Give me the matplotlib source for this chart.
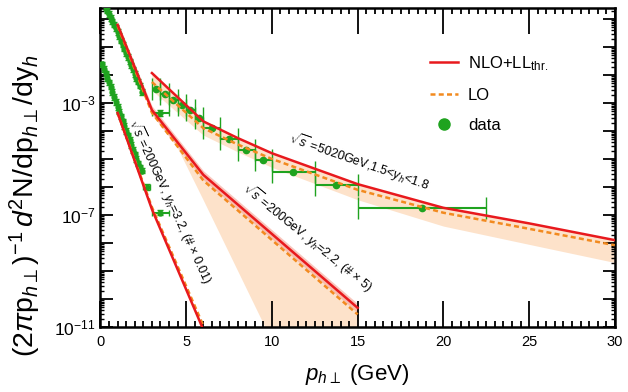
import math
import matplotlib
matplotlib.use('Agg')
import matplotlib.pyplot as plt
from matplotlib.lines import Line2D
from matplotlib.ticker import LogLocator, MultipleLocator, FuncFormatter, NullFormatter

plt.rcParams['font.family'] = ['Liberation Sans', 'DejaVu Sans']
plt.rcParams['mathtext.fontset'] = 'custom'
plt.rcParams['mathtext.rm'] = 'Liberation Sans'
plt.rcParams['mathtext.it'] = 'Liberation Sans:italic'
plt.rcParams['mathtext.bf'] = 'Liberation Sans:bold'

RED = '#e8191d'
ORANGE = '#f28a1f'
GREEN = '#1fa31f'
PEACH = '#fde2ca'
PINK = '#f6aea2'

# 200 GeV, y_h = 2.2 (x5)
pt_a = [0.3, 0.4, 0.5, 0.6, 0.7, 0.8, 0.9, 1.0, 1.1, 1.2, 1.3, 1.4, 1.5, 1.6,
        1.7, 1.8, 1.9, 2.0, 2.1, 2.2, 2.3, 2.45, 3.5]
dpt_a = [0.05] * 21 + [0.1, 0.5]
yld_a = [2.6, 2.0, 1.5, 1.1, 0.83, 0.63, 0.47, 0.34, 0.25, 0.17, 0.12, 0.087,
         0.062, 0.044, 0.031, 0.022, 0.016, 0.011, 7.9e-3, 5.8e-3, 4.2e-3,
         2.5e-3, 4.4e-4]

# 200 GeV, y_h = 3.2 (x0.01)
pt_b = [0.1, 0.2, 0.3, 0.4, 0.5, 0.6, 0.7, 0.8, 0.9, 1.0, 1.1, 1.2, 1.3, 1.4,
        1.5, 1.6, 1.7, 1.8, 1.9, 2.0, 2.1, 2.2, 2.3, 2.4, 2.7, 3.5]
dpt_b = [0.05] * 24 + [0.2, 0.5]
yld_b = [0.024, 0.0166, 0.0115, 7.9e-3, 5.5e-3, 3.8e-3, 2.5e-3, 1.66e-3,
         1.1e-3, 7.2e-4, 4.9e-4, 3.3e-4, 2.2e-4, 1.5e-4, 1.0e-4, 6.9e-5,
         4.7e-5, 3.2e-5, 2.1e-5, 1.45e-5, 1.0e-5, 6.9e-6, 5.0e-6, 3.8e-6,
         1.0e-6, 1.2e-7]

# 5020 GeV, 1.5 < y_h < 1.8
pt_c = [3.25, 3.75, 4.25, 4.75, 5.25, 5.75, 6.5, 7.5, 8.5, 9.5, 11.25, 13.75, 18.75]
dpt_c = [0.25, 0.25, 0.25, 0.25, 0.25, 0.25, 0.5, 0.5, 0.5, 0.5, 1.25, 1.25, 3.75]
yld_c = [3.2e-3, 2.1e-3, 1.3e-3, 8.3e-4, 5.4e-4, 3.0e-4, 1.3e-4, 5.0e-5,
         2.1e-5, 8.9e-6, 3.5e-6, 1.2e-6, 1.8e-7]

# theory curves
th_pt_c = [3, 6, 8, 10, 15, 20, 25, 30]
nlo_c = [1.17e-2, 2.2e-4, 5.6e-5, 1.6e-5, 1.26e-6, 1.8e-7, 5.0e-8, 1.26e-8]
lo_c = [5.6e-3, 1.26e-4, 3.3e-5, 1.0e-5, 7.9e-7, 1.2e-7, 3.2e-8, 8.3e-9]
lo_c_low = [2.8e-3, 7.1e-5, 1.8e-5, 5.0e-6, 3.5e-7, 4.0e-8, 8.9e-9, 2.0e-9]

th_pt_a = [1, 3, 6, 15]
nlo_a = [0.62, 5.6e-4, 2.7e-6, 4.8e-11]
lo_a = [0.56, 4.5e-4, 1.7e-6, 2.8e-11]
nlo_a_up = [0.79, 7.9e-4, 3.8e-6, 6.8e-11]
nlo_a_low = [0.47, 4.0e-4, 1.8e-6, 3.2e-11]
band_pt_a = [1, 3, 4.5, 6, 10, 15]
lo_a_up = [0.62, 5.6e-4, 3.9e-5, 2.7e-6, 2.1e-8, 4.8e-11]
lo_a_low = [0.45, 4.0e-4, 2.5e-5, 3.5e-7, 3.2e-12, 1.6e-18]

th_pt_b = [1, 3, 6]
nlo_b = [4.4e-4, 1.6e-7, 7.9e-12]
lo_b = [4.4e-4, 1.9e-7, 1.1e-11]
nlo_b_up = [5.2e-4, 1.9e-7, 9.5e-12]
nlo_b_low = [3.7e-4, 1.35e-7, 6.6e-12]

fig = plt.figure(figsize=(6.28, 3.92), dpi=100)
ax = fig.add_axes([0.16, 0.166, 0.819, 0.814])

# uncertainty bands
ax.fill_between(th_pt_c, lo_c_low, nlo_c, color=PEACH, lw=0, zorder=1)
ax.fill_between(band_pt_a, lo_a_low, lo_a_up, color=PEACH, lw=0, zorder=1)
ax.fill_between(th_pt_a, nlo_a_low, nlo_a_up, color=PINK, alpha=0.7, lw=0, zorder=1.5)
ax.fill_between(th_pt_b, nlo_b_low, nlo_b_up, color=PINK, alpha=0.5, lw=0, zorder=1.5)

# data
ekw = dict(fmt='o', color=GREEN, ecolor=GREEN, elinewidth=1.5, zorder=3)
for x, y, dx in [(pt_a, yld_a, dpt_a), (pt_b, yld_b, dpt_b)]:
    ax.errorbar(x, y, xerr=dx, yerr=[[v * 0.2 for v in y], [v * 0.25 for v in y]],
                ms=3.5, capsize=2.5, **ekw)
ax.errorbar(pt_c, yld_c, xerr=dpt_c, ms=4.5, capsize=8, **ekw)

# curves
for x, nlo, lo in [(th_pt_c, nlo_c, lo_c), (th_pt_a, nlo_a, lo_a), (th_pt_b, nlo_b, lo_b)]:
    ax.plot(x, lo, color=ORANGE, lw=1.8, dashes=(2.0, 1.3), zorder=4)
    ax.plot(x, nlo, color=RED, lw=1.8, zorder=5)

ax.set_yscale('log')
ax.set_xlim(0, 30)
ax.set_ylim(1e-11, 2.5)

ax.xaxis.set_major_locator(MultipleLocator(5))
ax.xaxis.set_minor_locator(MultipleLocator(0.5))
ax.yaxis.set_major_locator(LogLocator(base=10, numticks=30))
ax.yaxis.set_minor_locator(LogLocator(base=10, subs=range(2, 10), numticks=30))
ax.yaxis.set_minor_formatter(NullFormatter())


def ylab(v, pos):
    e = int(round(math.log10(v)))
    return r'$10^{%d}$' % e if e in (-3, -7, -11) else ''


ax.yaxis.set_major_formatter(FuncFormatter(ylab))
ax.tick_params(which='both', direction='in', top=True, right=True, width=1.3)
ax.tick_params(axis='x', which='major', length=19, pad=6, labelsize=10.5)
ax.tick_params(axis='x', which='minor', length=4)
ax.tick_params(axis='y', which='major', length=9, labelsize=12.5)
ax.tick_params(axis='y', which='minor', length=3, width=1.0)
for s in ax.spines.values():
    s.set_linewidth(1.8)

ax.set_xlabel(r'$p_{h\perp}$ (GeV)', fontsize=16, labelpad=9)
ax.set_ylabel(r'$(2\pi\mathrm{p}_{h\perp})^{-1}\,d^2\mathrm{N/dp}_{h\perp}\mathrm{/dy}_h$',
              fontsize=20.5)
ax.yaxis.set_label_coords(-0.112, 0.38)

tkw = dict(fontsize=9, rotation_mode='anchor', ha='left', va='baseline', zorder=6)
ax.text(10.9, 3.9e-5, r'$\sqrt{s}$ =5020GeV,1.5<$y_h$<1.8', rotation=-19, **tkw)
ax.text(8.2, 7.8e-7, r'$\sqrt{s}$ =200GeV, $y_h$=2.2, (# $\times$ 5)', rotation=-39, **tkw)
ax.text(1.6, 2.1e-4, r'$\sqrt{s}$ =200GeV, $y_h$=3.2, (# $\times$ 0.01)', rotation=-65, **tkw)

handles = [Line2D([], [], color=RED, lw=1.8),
           Line2D([], [], color=ORANGE, lw=1.8, dashes=(2.0, 1.3)),
           Line2D([], [], color=GREEN, marker='o', ms=8, ls='none')]
ax.legend(handles, [r'NLO+LL$_{\mathrm{thr.}}$', 'LO', 'data'], loc='upper left',
          bbox_to_anchor=(0.64, 0.855), frameon=False, fontsize=12, borderpad=0,
          borderaxespad=0, handlelength=1.7, handletextpad=0.6, labelspacing=0.9)

fig.savefig('out.png', dpi=100)
